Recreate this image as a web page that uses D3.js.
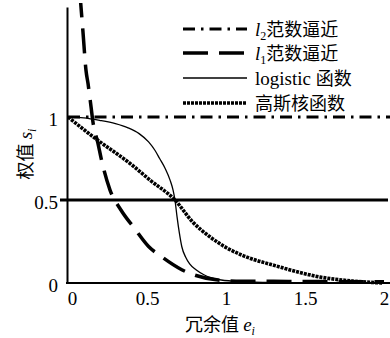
<!DOCTYPE html>
<html>
<head>
<meta charset="utf-8">
<script src="https://cdn.jsdelivr.net/npm/d3@7"></script>
<style>
  html, body { margin: 0; padding: 0; background: #fff; }
  svg { display: block; }
  text { font-family: "Liberation Serif", "Noto Sans CJK SC", serif; fill: #000; }
</style>
</head>
<body>
<svg id="chart" width="390" height="338"></svg>
<script>
// ---- data ----
const xTicks = [0, 0.5, 1, 1.5, 2];
const xTickLabels = ["0", "0.5", "1", "1.5", "2"];
const yTicks = [0, 0.5, 1];
const yTickLabels = ["0", "0.5", "1"];

const l2E = [0, 2.04];
const l2S = [1, 1];

const l1E = [0.075, 0.095, 0.114, 0.127, 0.146, 0.158, 0.19, 0.21, 0.266, 0.335, 0.42, 0.51, 0.59, 0.72, 0.80, 0.95, 1.1, 1.3, 1.5, 1.7, 2.0];
const l1S = [1.75, 1.51, 1.28, 1.2, 1.06, 0.97, 0.84, 0.75, 0.56, 0.44, 0.33, 0.22, 0.16, 0.08, 0.048, 0.018, 0.011, 0.01, 0.009, 0.008, 0.007];

const logE = [0, 0.1, 0.2, 0.3, 0.38, 0.45, 0.51, 0.55, 0.58, 0.615, 0.646, 0.665, 0.677, 0.69, 0.705, 0.72, 0.745, 0.77, 0.81, 0.86, 0.97, 1.1, 1.3, 1.6, 2.0];
const logS = [1.0, 0.995, 0.98, 0.96, 0.935, 0.90, 0.85, 0.80, 0.75, 0.69, 0.62, 0.56, 0.50, 0.40, 0.30, 0.22, 0.155, 0.115, 0.08, 0.05, 0.018, 0.008, 0.003, 0.001, 0.0];

const gE = [0, 0.17, 0.405, 0.519, 0.677, 0.79, 0.90, 1.006, 1.108, 1.18, 1.28, 1.386, 1.595, 1.80, 1.99];
const gS = [1.0, 0.873, 0.711, 0.620, 0.50, 0.367, 0.277, 0.211, 0.165, 0.14, 0.113, 0.084, 0.036, 0.012, 0.0];

const refLevel = 0.5;

const legendNames = ["l2", "l1", "logistic", "gauss"];

// ---- scales ----
const svg = d3.select("#chart");
svg.append("rect").attr("width", 390).attr("height", 338).attr("fill", "#fff");

const x = d3.scaleLinear().domain([0, 2]).range([68, 384]);
const y = d3.scaleLinear().domain([0, 1.663]).range([283, 7]);

svg.append("defs").append("clipPath").attr("id", "plotclip")
  .append("rect").attr("x", 66).attr("y", 3).attr("width", 330).attr("height", 290);

// ---- axes ----
const yAxis = d3.axisLeft(y).tickValues(yTicks).tickSize(0).tickSizeOuter(0).tickPadding(9)
  .tickFormat((d, i) => yTickLabels[i]);
const gy = svg.append("g").attr("transform", "translate(67,0)").call(yAxis);
gy.select(".domain").attr("stroke", "#000").attr("stroke-width", 2);
gy.selectAll("text").attr("font-size", 19).attr("font-family", "Liberation Serif").attr("dy", "0.45em");

const xAxis = d3.axisBottom(x).tickValues(xTicks).tickSize(0).tickPadding(9)
  .tickFormat((d, i) => xTickLabels[i]);
const gx = svg.append("g").attr("transform", "translate(0,283)").call(xAxis);
gx.select(".domain").remove();
gx.selectAll("text").attr("font-size", 19).attr("font-family", "Liberation Serif");
gx.selectAll(".tick").filter(d => d === 0).select("text").attr("dx", 4);

svg.append("line").attr("x1", 66).attr("x2", 390).attr("y1", y(0)).attr("y2", y(0))
  .attr("stroke", "#000").attr("stroke-width", 2);

// reference line at 0.5
svg.append("line").attr("x1", 60).attr("x2", 388).attr("y1", y(refLevel)).attr("y2", y(refLevel))
  .attr("stroke", "#000").attr("stroke-width", 3);

// ---- series ----
const styles = {
  l2: { width: 3, dash: "12,6,2.5,6", cap: "butt" },
  l1: { width: 3.5, dash: "25,11", cap: "butt" },
  logistic: { width: 1.3, dash: null, cap: "butt" },
  gauss: { width: 3.6, dash: "3,1", cap: "butt" }
};

const series = [
  { key: "l2", e: l2E, s: l2S },
  { key: "l1", e: l1E, s: l1S },
  { key: "logistic", e: logE, s: logS },
  { key: "gauss", e: gE, s: gS }
];

const line = d3.line().x(d => x(d[0])).y(d => y(d[1])).curve(d3.curveMonotoneX);
const straight = d3.line().x(d => x(d[0])).y(d => y(d[1]));
const plot = svg.append("g").attr("clip-path", "url(#plotclip)");

series.forEach(sr => {
  const st = styles[sr.key];
  const pts = sr.e.map((e, i) => [e, sr.s[i]]);
  const p = plot.append("path").datum(pts)
    .attr("d", sr.key === "l2" ? straight : line)
    .attr("fill", "none").attr("stroke", "#000")
    .attr("stroke-width", st.width).attr("stroke-linecap", st.cap);
  if (st.dash) p.attr("stroke-dasharray", st.dash);
});

// ---- legend ----
const legendY = [29, 53, 78, 103];
const lg = svg.append("g");
legendNames.forEach((k, i) => {
  const st = styles[k];
  const l = lg.append("line").attr("x1", 183).attr("x2", 247)
    .attr("y1", legendY[i]).attr("y2", legendY[i])
    .attr("stroke", "#000").attr("stroke-width", st.width);
  if (st.dash) l.attr("stroke-dasharray", st.dash);
});

function legendText(i, build) {
  const t = lg.append("text").attr("x", 255).attr("y", legendY[i] + 7).attr("font-size", 19);
  build(t);
}
legendText(0, t => {
  t.append("tspan").attr("font-style", "italic").text("l");
  t.append("tspan").attr("font-size", 12).attr("dy", 4).text("2");
  t.append("tspan").attr("dy", -4).attr("font-family", "Noto Sans CJK SC").attr("font-size", 18).text("范数逼近");
});
legendText(1, t => {
  t.append("tspan").attr("font-style", "italic").text("l");
  t.append("tspan").attr("font-size", 12).attr("dy", 4).text("1");
  t.append("tspan").attr("dy", -4).attr("font-family", "Noto Sans CJK SC").attr("font-size", 18).text("范数逼近");
});
legendText(2, t => {
  t.append("tspan").text("logistic ");
  t.append("tspan").attr("font-family", "Noto Sans CJK SC").attr("font-size", 18).text("函数");
});
legendText(3, t => {
  t.append("tspan").attr("font-family", "Noto Sans CJK SC").attr("font-size", 18).text("高斯核函数");
});

// ---- axis titles ----
const yt = svg.append("text").attr("transform", "translate(32,154) rotate(-90)")
  .attr("text-anchor", "middle").attr("font-size", 19);
yt.append("tspan").attr("font-family", "Noto Sans CJK SC").attr("font-size", 18).text("权值 ");
yt.append("tspan").attr("font-style", "italic").text("s");
yt.append("tspan").attr("font-style", "italic").attr("font-size", 12).attr("dy", 4).text("i");

const xt = svg.append("text").attr("x", 220).attr("y", 331)
  .attr("text-anchor", "middle").attr("font-size", 19);
xt.append("tspan").attr("font-family", "Noto Sans CJK SC").attr("font-size", 18).text("冗余值 ");
xt.append("tspan").attr("font-style", "italic").text("e");
xt.append("tspan").attr("font-style", "italic").attr("font-size", 12).attr("dy", 4).text("i");
</script>
</body>
</html>
